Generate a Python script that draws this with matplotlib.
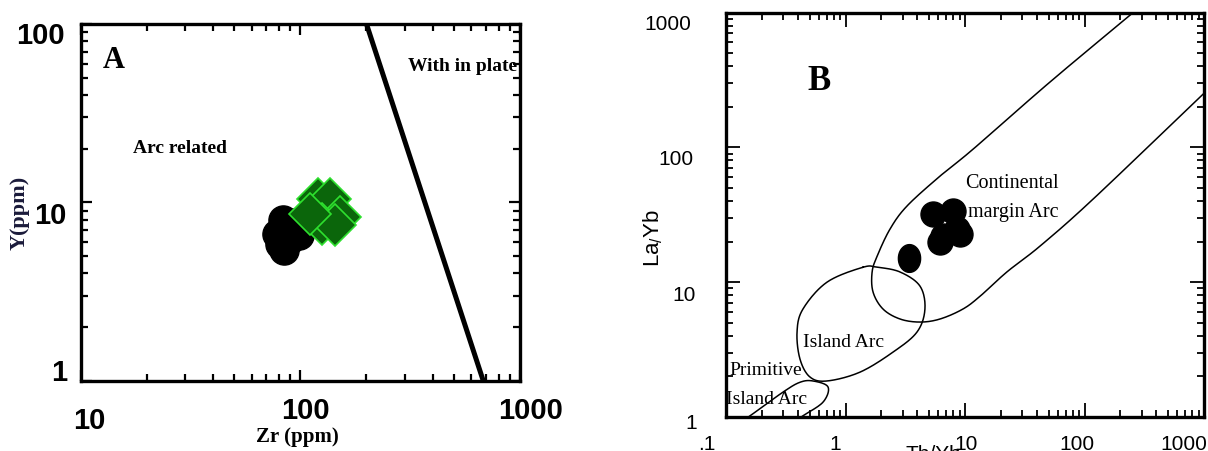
import numpy as np
import matplotlib
matplotlib.use("Agg")
import matplotlib.pyplot as plt
from matplotlib.transforms import ScaledTranslation
from matplotlib.ticker import LogLocator, NullFormatter, FixedLocator, FixedFormatter

plt.rcParams['mathtext.default'] = 'regular'

# ---------------- Panel A data ----------------
zr_black = [78.3, 83.3, 94.5, 98.6, 84.2, 89.8, 80.7]
y_black = [6.64, 7.96, 7.66, 6.56, 5.41, 6.23, 5.84]
zr_green = [120.4, 136.5, 151.6, 125.5, 143.9, 110.7]
y_green = [10.45, 10.45, 8.27, 7.56, 7.46, 8.60]
boundary_zr = [200, 680]
boundary_y = [100, 1]
a_xticks = [10, 100, 1000]
a_xticklabels = ["10", "100", "1000"]
a_yticks = [1, 10, 100]
a_yticklabels = ["1", "10", "100"]

# ---------------- Panel B data ----------------
thyb_pts = [3.40, 5.40, 7.94, 8.58, 6.18, 6.55, 9.08]
layb_pts = [15.1, 32.0, 33.7, 24.8, 19.8, 22.0, 22.8]
cont_x = [291, 51.4, 11.7, 6.18, 3.27, 2.36, 1.84, 1.67, 1.70, 2.06, 2.86, 4.20,
          6.18, 9.61, 13.4, 22.4, 42.4, 118, 982, 1236]
cont_y = [1100, 305, 97, 61.2, 36.7, 24.8, 15.6, 11.9, 8.45, 6.32, 5.33, 5.06,
          5.33, 6.32, 7.88, 11.9, 18.5, 41.3, 248, 300]
island_x = [1.40, 0.70, 0.44, 0.393, 0.416, 0.504, 0.70, 1.32, 2.50, 3.96, 4.62, 4.20, 2.86, 1.84]
island_y = [12.9, 10.0, 6.31, 4.26, 2.69, 1.98, 1.85, 2.15, 3.03, 4.26, 6.31, 9.35, 11.9, 12.9]
prim_x = [0.13, 0.159, 0.30, 0.416, 0.535, 0.714, 0.649, 0.44, 0.36]
prim_y = [0.90, 1.02, 1.53, 1.81, 1.85, 1.67, 1.29, 1.02, 0.90]
b_xticks = [0.1, 1, 10, 100, 1000]
b_xticklabels = [".1", "1", "10", "100", "1000"]
b_yticks = [1, 10, 100, 1000]
b_yticklabels = ["1", "10", "100", "1000"]


def smooth(xs, ys, closed=False, n=20):
    lx = np.log10(np.asarray(xs, float))
    ly = np.log10(np.asarray(ys, float))
    P = np.column_stack([lx, ly])
    if closed:
        P = np.vstack([P[-1], P, P[0], P[1]])
    else:
        P = np.vstack([2 * P[0] - P[1], P, 2 * P[-1] - P[-2]])
    out = []
    for i in range(1, len(P) - 2):
        p0, p1, p2, p3 = P[i - 1], P[i], P[i + 1], P[i + 2]
        for t in np.linspace(0, 1, n, endpoint=False):
            t2, t3 = t * t, t * t * t
            pt = 0.5 * ((2 * p1) + (-p0 + p2) * t + (2 * p0 - 5 * p1 + 4 * p2 - p3) * t2
                        + (-p0 + 3 * p1 - 3 * p2 + p3) * t3)
            out.append(pt)
    out.append(P[-2])
    out = np.array(out)
    return 10 ** out[:, 0], 10 ** out[:, 1]


def offset_labels(fig, labels, offsets):
    for lab, (dx, dy) in zip(labels, offsets):
        lab.set_transform(lab.get_transform() + ScaledTranslation(dx / 100, -dy / 100, fig.dpi_scale_trans))


fig = plt.figure(figsize=(12.08, 4.52), dpi=100)

serif = 'Liberation Serif'
sans = 'Liberation Sans'

# ================= Panel A =================
axA = fig.add_axes([80.7 / 1208, (452 - 381.7) / 452, (520 - 80.7) / 1208, (381.7 - 25) / 452])
axA.set_xscale('log')
axA.set_yscale('log')
axA.set_xlim(10, 1000)
axA.set_ylim(1, 100)

axA.plot(boundary_zr, boundary_y, color='black', lw=3.6, solid_capstyle='butt')
axA.plot(zr_black, y_black, 'o', ms=21, color='black', mec='black', ls='none')
axA.plot(zr_green, y_green, 'D', ms=21, color='#0b660b', mec='#2ee02e', mew=1.2, ls='none')

for s in axA.spines.values():
    s.set_linewidth(2.4)
axA.xaxis.set_major_locator(FixedLocator(a_xticks))
axA.xaxis.set_major_formatter(FixedFormatter(a_xticklabels))
axA.yaxis.set_major_locator(FixedLocator(a_yticks))
axA.yaxis.set_major_formatter(FixedFormatter(a_yticklabels))
axA.xaxis.set_minor_locator(LogLocator(base=10, subs=np.arange(2, 10)))
axA.yaxis.set_minor_locator(LogLocator(base=10, subs=np.arange(2, 10)))
axA.xaxis.set_minor_formatter(NullFormatter())
axA.yaxis.set_minor_formatter(NullFormatter())
axA.tick_params(which='both', direction='in', top=True, right=True, width=1.6)
axA.tick_params(which='major', length=8, pad=14)
axA.tick_params(which='minor', length=5)
for lab in axA.get_xticklabels() + axA.get_yticklabels():
    lab.set_fontfamily(sans)
    lab.set_fontweight('bold')
    lab.set_fontsize(21)
axA.tick_params(axis='y', pad=10)
offset_labels(fig, axA.get_xticklabels(), [(9, 6), (5, -4), (11, -4)])
offset_labels(fig, axA.get_yticklabels(), [(0, -12), (0, 10), (-2, 8)])

axA.text(0.075, 0.90, "A", transform=axA.transAxes, fontsize=22, fontweight='bold',
         fontfamily=serif, ha='center', va='center')
axA.text(0.87, 0.885, "With in plate", transform=axA.transAxes, fontsize=14, fontweight='bold',
         fontfamily=serif, ha='center', va='center')
axA.text(0.225, 0.655, "Arc related", transform=axA.transAxes, fontsize=14, fontweight='bold',
         fontfamily=serif, ha='center', va='center')
fig.text(20 / 1208, 1 - 213 / 452, "Y(ppm)", rotation=90, fontsize=16, fontweight='bold',
         fontfamily=serif, color='#1a1a3a', ha='center', va='center')
fig.text(297 / 1208, 1 - 437 / 452, "Zr (ppm)", fontsize=15, fontweight='bold',
         fontfamily=serif, ha='center', va='center')

# ================= Panel B =================
axB = fig.add_axes([726 / 1208, (452 - 418) / 452, (1204 - 726) / 1208, (418 - 13.5) / 452])
axB.set_xscale('log')
axB.set_yscale('log')
axB.set_xlim(0.1, 1000)
axB.set_ylim(1, 1000)

cx, cy = smooth(cont_x, cont_y)
axB.plot(cx, cy, color='black', lw=1.1)
ix, iy = smooth(island_x, island_y, closed=True)
axB.plot(ix, iy, color='black', lw=1.1)
px_, py_ = smooth(prim_x, prim_y)
axB.plot(px_, py_, color='black', lw=1.1)

# isolated sample drawn as a slightly tall ellipse, cluster as round dots
t = np.linspace(0, 2 * np.pi, 60)
ellipse_marker = np.column_stack([0.8 * np.cos(t), np.sin(t)])
axB.plot(thyb_pts[:1], layb_pts[:1], marker=ellipse_marker, ms=20, color='black', ls='none')
axB.plot(thyb_pts[1:], layb_pts[1:], 'o', ms=18, color='black', ls='none')

for s in axB.spines.values():
    s.set_linewidth(2.4)
axB.xaxis.set_major_locator(FixedLocator(b_xticks))
axB.xaxis.set_major_formatter(FixedFormatter(b_xticklabels))
axB.yaxis.set_major_locator(FixedLocator(b_yticks))
axB.yaxis.set_major_formatter(FixedFormatter(b_yticklabels))
axB.xaxis.set_minor_locator(LogLocator(base=10, subs=np.arange(2, 10)))
axB.yaxis.set_minor_locator(LogLocator(base=10, subs=np.arange(2, 10)))
axB.xaxis.set_minor_formatter(NullFormatter())
axB.yaxis.set_minor_formatter(NullFormatter())
axB.tick_params(which='both', direction='in', top=True, right=True, width=1.3)
axB.tick_params(which='major', length=10, pad=12)
axB.tick_params(which='minor', length=5)
for lab in axB.get_xticklabels() + axB.get_yticklabels():
    lab.set_fontfamily(sans)
    lab.set_fontsize(15)
offset_labels(fig, axB.get_xticklabels(), [(-19, 0), (-10, 0), (1, 0), (-8, 0), (-20, 0)])
offset_labels(fig, axB.get_yticklabels(), [(-12, 4), (-14, 10), (-16, 9), (-18, 9)])

fig.text(819 / 1208, 1 - 82 / 452, "B", fontsize=25, fontweight='bold', fontfamily=serif,
         ha='center', va='center')
fig.text(965 / 1208, 1 - 183 / 452, "Continental", fontsize=14.5, fontfamily=serif,
         ha='left', va='center')
fig.text(968 / 1208, 1 - 212 / 452, "margin Arc", fontsize=14.5, fontfamily=serif,
         ha='left', va='center')
fig.text(803 / 1208, 1 - 343 / 452, "Island Arc", fontsize=14, fontfamily=serif,
         ha='left', va='center')
fig.text(729 / 1208, 1 - 371 / 452, "Primitive", fontsize=14, fontfamily=serif,
         ha='left', va='center')
fig.text(726 / 1208, 1 - 400 / 452, "Island Arc", fontsize=14, fontfamily=serif,
         ha='left', va='center')
fig.text(653 / 1208, 1 - 238 / 452, "La$_{/}$Yb", rotation=90, fontsize=16, fontfamily=sans,
         ha='center', va='center')
fig.text(905 / 1208, 1 - 445 / 452, "Th/Yb", fontsize=15, fontfamily=sans,
         ha='left', va='top')

fig.savefig("out.png", dpi=100)
